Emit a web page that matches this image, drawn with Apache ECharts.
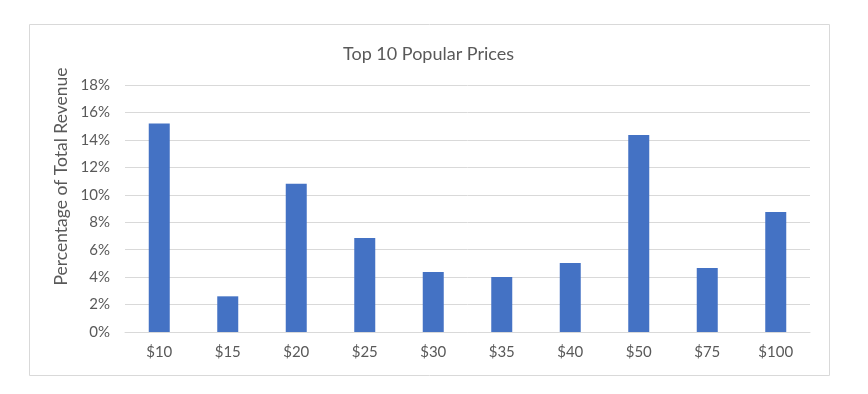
<!DOCTYPE html>
<html><head><meta charset="utf-8">
<script src="https://cdn.jsdelivr.net/npm/echarts@6/dist/echarts.min.js"></script>
<style>html,body{margin:0;padding:0;background:#fff}#c{width:868px;height:394px}</style>
</head><body><div id="c"></div>
<script>
const categories = ['$10','$15','$20','$25','$30','$35','$40','$50','$75','$100'];
const revenueShare = [15.2, 2.6, 10.8, 6.85, 4.37, 4.0, 5.03, 14.36, 4.66, 8.75];
const yTicks = {min: 0, max: 18, interval: 2};
const chartTitle = 'Top 10 Popular Prices';
const yTitle = 'Percentage of Total Revenue';

const chart = echarts.init(document.getElementById('c'));
const font = 'Lato, "Open Sans", sans-serif';
chart.setOption({
  animation: false,
  textStyle: {fontFamily: font},
  graphic: [
    {type: 'rect', shape: {x: 29.5, y: 24.5, width: 800, height: 351}, style: {fill: 'none', stroke: '#d9d9d9', lineWidth: 1}, silent: true},
    {type: 'text', x: 61, y: 176.5, rotation: Math.PI / 2, style: {text: yTitle, fill: '#595959', fontSize: 17.5, fontFamily: font, align: 'center', verticalAlign: 'middle'}, silent: true}
  ],
  title: {text: chartTitle, left: 338, top: 40, textStyle: {fontFamily: font, fontSize: 18, fontWeight: 'normal', color: '#595959'}},
  grid: {left: 125, right: 58, top: 85, bottom: 62},
  xAxis: {
    type: 'category', data: categories,
    axisLine: {lineStyle: {color: '#d9d9d9'}},
    axisTick: {show: false},
    axisLabel: {color: '#595959', fontSize: 15, margin: 13, fontFamily: font}
  },
  yAxis: {
    type: 'value', min: yTicks.min, max: yTicks.max, interval: yTicks.interval,
    axisLabel: {color: '#595959', fontSize: 15, margin: 15, formatter: v => v + '%', fontFamily: font},
    splitLine: {lineStyle: {color: '#d9d9d9'}},
    axisLine: {show: false}, axisTick: {show: false}
  },
  series: [{type: 'bar', data: revenueShare, barWidth: 21, itemStyle: {color: '#4472C4'}}]
});
</script></body></html>
